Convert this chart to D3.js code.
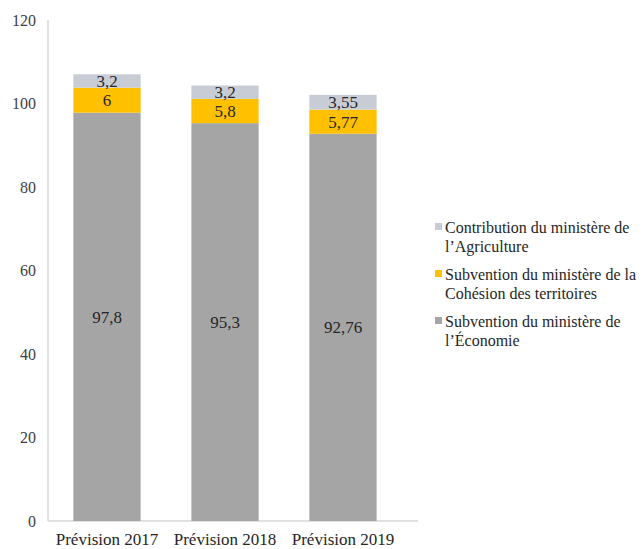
<!DOCTYPE html>
<html>
<head>
<meta charset="utf-8">
<script src="https://cdn.jsdelivr.net/npm/d3@7"></script>
<style>
  body { margin: 0; background: #fff; }
</style>
</head>
<body>
<div id="chart"></div>
<script>
const categories = ["Prévision 2017", "Prévision 2018", "Prévision 2019"];
const economie = [97.8, 95.3, 92.76];
const cohesion = [6, 5.8, 5.77];
const agriculture = [3.2, 3.2, 3.55];
const seriesNames = [
  ["Subvention du ministère de", "l’Économie"],
  ["Subvention du ministère de la", "Cohésion des territoires"],
  ["Contribution du ministère de", "l’Agriculture"],
];
const yTicks = [0, 20, 40, 60, 80, 100, 120];

const width = 644;
const height = 549;
const margin = { top: 20, right: 242, bottom: 28, left: 48 };
const colors = ["#a5a5a5", "#ffc000", "#c8ccd5"];

const rows = categories.map((c, i) => ({
  cat: c, eco: economie[i], coh: cohesion[i], agr: agriculture[i],
}));
const keys = ["eco", "coh", "agr"];
const stack = d3.stack().keys(keys)(rows);

const svg = d3.select("#chart").append("svg")
  .attr("width", width).attr("height", height)
  .attr("font-family", "Liberation Serif");

const x = d3.scaleBand().domain(categories)
  .range([margin.left, width - margin.right])
  .paddingInner(0.43).paddingOuter(0.215);
const y = d3.scaleLinear().domain([0, 120])
  .range([height - margin.bottom, margin.top]);

const fmt = (v) => String(v).replace(".", ",");

// axes
svg.append("line")
  .attr("x1", margin.left).attr("x2", margin.left)
  .attr("y1", y(120)).attr("y2", y(0))
  .attr("stroke", "#d9d9d9").attr("stroke-width", 1.5);
svg.append("line")
  .attr("x1", margin.left).attr("x2", width - margin.right + 16)
  .attr("y1", y(0)).attr("y2", y(0))
  .attr("stroke", "#d9d9d9").attr("stroke-width", 1.5);

svg.append("g").selectAll("text").data(yTicks).enter().append("text")
  .attr("x", margin.left - 12).attr("y", (d) => y(d))
  .attr("dy", "0.35em").attr("text-anchor", "end")
  .attr("font-size", 16).attr("fill", "#404040")
  .text((d) => d);

svg.append("g").selectAll("text").data(categories).enter().append("text")
  .attr("x", (d) => x(d) + x.bandwidth() / 2).attr("y", y(0) + 24)
  .attr("text-anchor", "middle").attr("font-size", 17).attr("fill", "#262626")
  .text((d) => d);

// bars
const layers = svg.append("g").selectAll("g").data(stack).enter().append("g")
  .attr("fill", (d, i) => colors[i]);

layers.selectAll("rect").data((d) => d).enter().append("rect")
  .attr("x", (d) => x(d.data.cat))
  .attr("y", (d) => y(d[1]))
  .attr("width", x.bandwidth())
  .attr("height", (d) => y(d[0]) - y(d[1]));

layers.selectAll("text").data((d) => d.map((v) => ({ v, key: d.key }))).enter()
  .append("text")
  .attr("x", (d) => x(d.v.data.cat) + x.bandwidth() / 2)
  .attr("y", (d) => y((d.v[0] + d.v[1]) / 2))
  .attr("dy", "0.35em").attr("text-anchor", "middle")
  .attr("font-size", 17).attr("fill", "#262626")
  .text((d) => fmt(d.v.data[d.key]));

// legend
const legend = svg.append("g").attr("transform", "translate(435,0)");
const legendOrder = [2, 1, 0];
const legendY = [233, 280, 327];
legendOrder.forEach((s, i) => {
  legend.append("rect")
    .attr("x", 0).attr("y", legendY[i] - 10)
    .attr("width", 7).attr("height", 7)
    .attr("fill", colors[s]);
  legend.append("text")
    .attr("x", 10).attr("y", legendY[i])
    .attr("font-size", 16).attr("fill", "#262626")
    .selectAll("tspan").data(seriesNames[s]).enter().append("tspan")
    .attr("x", 10).attr("dy", (d, j) => (j === 0 ? 0 : 19))
    .text((d) => d);
});
</script>
</body>
</html>
